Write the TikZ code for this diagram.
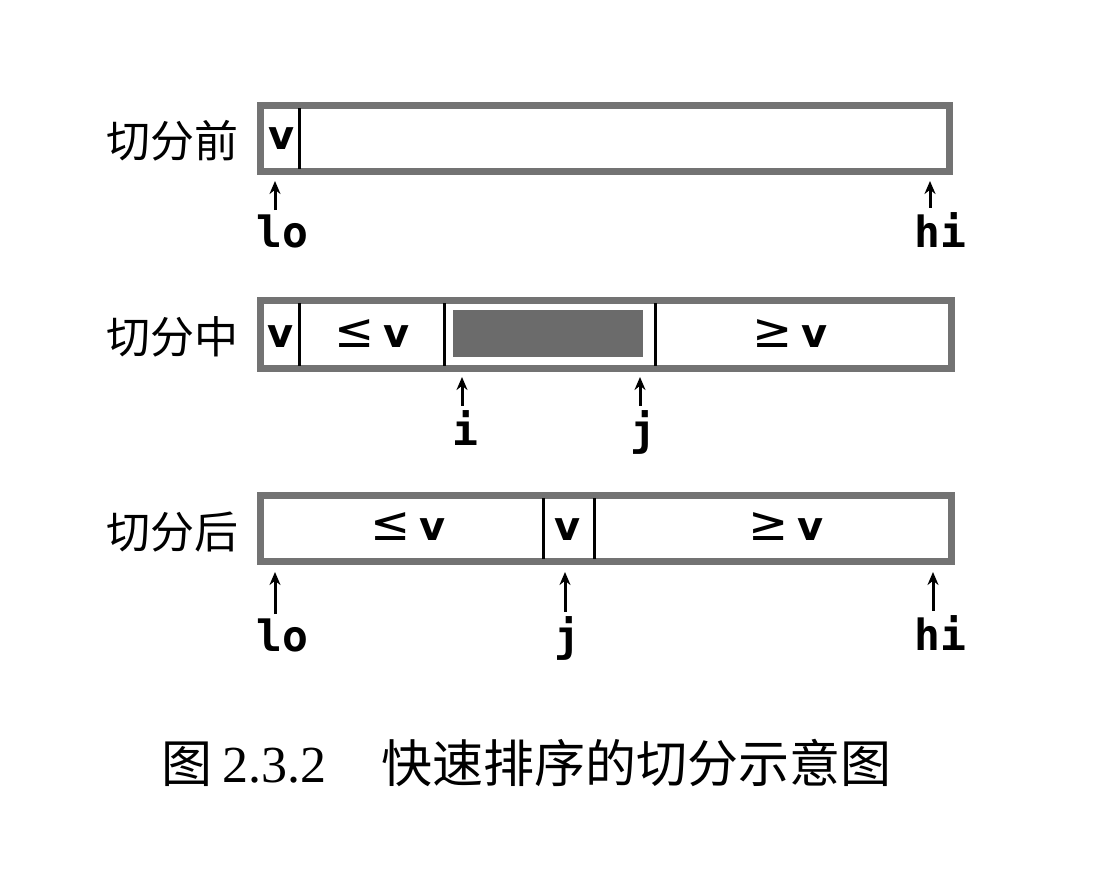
\documentclass[tikz,border=0pt]{standalone}
\usepackage{fontspec}
\setmainfont{DejaVu Sans}
\newfontfamily\cjk{Noto Sans CJK SC}
\newfontfamily\ptrfont{DejaVu Sans Mono}
\newfontfamily\capserif{Liberation Serif}
\usetikzlibrary{arrows.meta,calc}
\newcommand{\cmpsym}[1]{{\mdseries\fontsize{48}{52}\selectfont #1}}
\begin{document}
\begin{tikzpicture}[x=1pt,y=-1pt,
  barframe/.style={draw=black!55, line width=7pt},
  divider/.style={draw=black, line width=3pt},
  shaded/.style={fill=black!58},
  cell/.style={anchor=base, inner sep=0pt, font=\bfseries\fontsize{40}{48}\selectfont},
  ptrlabel/.style={anchor=base, inner sep=0pt, font=\ptrfont\bfseries\fontsize{43}{50}\selectfont},
  rowlabel/.style={anchor=east, inner sep=0pt, font=\cjk\fontsize{44}{52}\selectfont},
  captext/.style={anchor=base west, inner sep=0pt, font=\cjk\fontsize{51}{60}\selectfont},
  ptr/.style={draw=black, line width=3pt, -{Stealth[length=13pt,width=11pt]}},
]
\useasboundingbox (0,0) rectangle (1094,868);
\fill[white] (0,0) rectangle (1094,868);

% ---------- row 1: before partition
\node[rowlabel] (r1) at (239,141) {切分前};
\draw[barframe] (260.5,105.5) rectangle (949.5,171.5);
\draw[divider] (299,108) -- (299,169);
\node[cell] (v1) at (282,149) {v};
\node[ptrlabel] (lo1) at (282,247) {lo};
\node[ptrlabel] (hi1) at (940,247) {hi};
\coordinate (lo1t) at (275,181);
\coordinate (hi1t) at (930,181);
\draw[ptr] ($(lo1t |- lo1.north)+(0,-4)$) -- (lo1t);
\draw[ptr] ($(hi1t |- hi1.north)+(0,-4)$) -- (hi1t);

% ---------- row 2: during partition
\node[rowlabel] (r2) at (239,337) {切分中};
\draw[barframe] (260.5,300.5) rectangle (951.5,368.5);
\fill[shaded] (453,310) rectangle (643,357);
\draw[divider] (299,303) -- (299,366);
\draw[divider] (444,303) -- (444,366);
\draw[divider] (655,303) -- (655,366);
\node[cell] (v2) at (281,347) {v};
\node[cell] (le2) at (372,347) {\cmpsym{≤}\hspace{9pt}v};
\node[cell] (ge2) at (790,347) {\cmpsym{≥}\hspace{9pt}v};
\node[ptrlabel] (i2) at (465,445) {i};
\node[ptrlabel] (j2) at (643,445) {j};
\coordinate (i2t) at (462,377);
\coordinate (j2t) at (640,377);
\draw[ptr] ($(i2t |- i2.north)+(0,-4)$) -- (i2t);
\draw[ptr] ($(j2t |- j2.north)+(0,-4)$) -- (j2t);

% ---------- row 3: after partition
\node[rowlabel] (r3) at (239,532) {切分后};
\draw[barframe] (260.5,495.5) rectangle (951.5,561.5);
\draw[divider] (543,498) -- (543,559);
\draw[divider] (594,498) -- (594,559);
\node[cell] (le3) at (408,540) {\cmpsym{≤}\hspace{9pt}v};
\node[cell] (v3) at (568,540) {v};
\node[cell] (ge3) at (786,540) {\cmpsym{≥}\hspace{9pt}v};
\node[ptrlabel] (lo3) at (282,651) {lo};
\node[ptrlabel] (j3) at (567,651) {j};
\node[ptrlabel] (hi3) at (940,650) {hi};
\coordinate (lo3t) at (275,572);
\coordinate (j3t) at (565,572);
\coordinate (hi3t) at (933,572);
\draw[ptr] ($(lo3t |- lo3.north)+(0,-4)$) -- (lo3t);
\draw[ptr] ($(j3t |- j3.north)+(0,-4)$) -- (j3t);
\draw[ptr] ($(hi3t |- hi3.north)+(0,-4)$) -- (hi3t);

% ---------- caption
\node[captext] (cap1) at (161,782) {图\hspace{10pt}{\capserif\fontsize{52}{60}\selectfont 2.3.2}};
\node[captext] (cap2) at (381,782) {快速排序的切分示意图};
\end{tikzpicture}
\end{document}
